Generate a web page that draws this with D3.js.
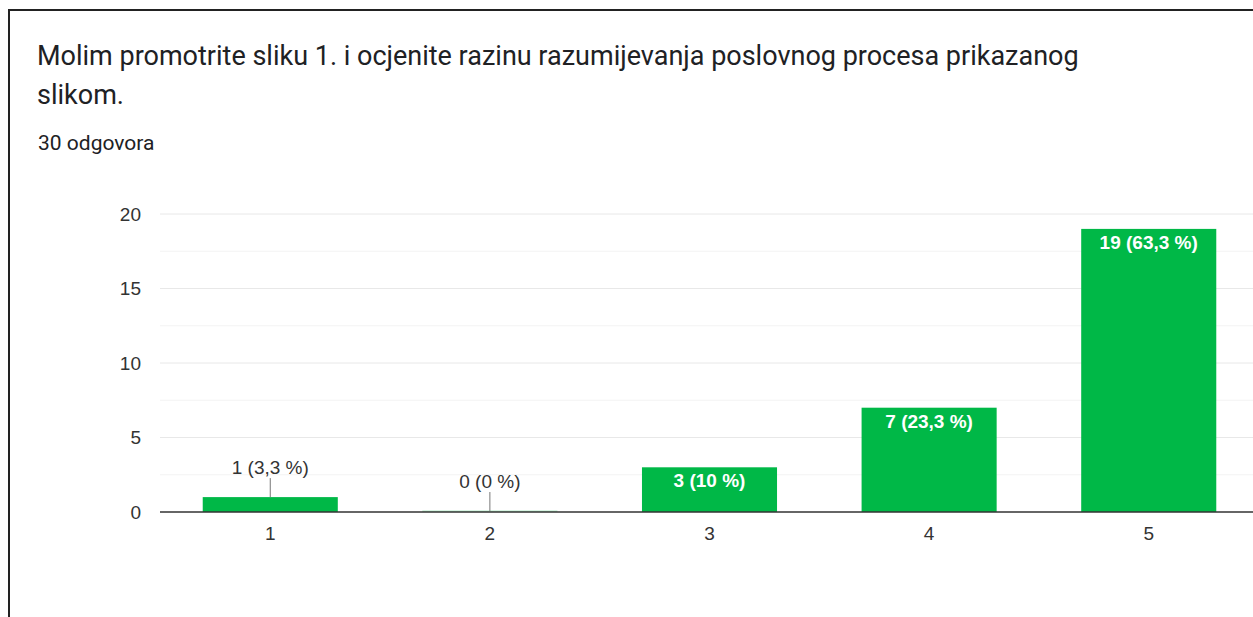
<!DOCTYPE html>
<html>
<head>
<meta charset="utf-8">
<script src="https://cdn.jsdelivr.net/npm/d3@7"></script>
<style>
  body { margin: 0; background: #fff; }
  svg { display: block; }
</style>
</head>
<body>
<div id="chart"></div>
<script>
// data
const categories = ['1', '2', '3', '4', '5']
const counts = [1, 0, 3, 7, 19]
const labels = ['1 (3,3 %)', '0 (0 %)', '3 (10 %)', '7 (23,3 %)', '19 (63,3 %)']
const yTicks = [0, 5, 10, 15, 20]
const minorTicks = [2.5, 7.5, 12.5, 17.5]

const W = 1253, H = 617
const svg = d3.select('#chart').append('svg')
    .attr('width', W)
    .attr('height', H)

// frame of the screenshot card
svg.append('path')
    .attr('d', `M9,${H} L9,10 L${W},10`)
    .attr('fill', 'none')
    .attr('stroke', '#222')
    .attr('stroke-width', 2)

// title
const title = svg.append('g').attr('font-family', 'Roboto, sans-serif').attr('fill', '#202124')
title.append('text').attr('x', 37).attr('y', 65).attr('font-size', 27)
    .text('Molim promotrite sliku 1. i ocjenite razinu razumijevanja poslovnog procesa prikazanog')
title.append('text').attr('x', 37).attr('y', 104).attr('font-size', 27)
    .text('slikom.')
title.append('text').attr('x', 38).attr('y', 150).attr('font-size', 21)
    .text('30 odgovora')

const x = d3.scaleBand()
    .domain(categories)
    .range([161, 1258])
    .paddingInner(0.385)
    .paddingOuter(0.19)

const y = d3.scaleLinear()
    .domain([0, 20])
    .range([512, 214])

const green = '#00b847'
const font = 'Arial, "Liberation Sans", sans-serif'
const plot = svg.append('g').attr('font-family', font)

// gridlines
plot.selectAll('.minor').data(minorTicks).enter().append('line')
    .attr('x1', 160).attr('x2', W)
    .attr('y1', d => y(d)).attr('y2', d => y(d))
    .attr('stroke', '#f3f3f3')
plot.selectAll('.major').data(yTicks.slice(1)).enter().append('line')
    .attr('x1', 160).attr('x2', W)
    .attr('y1', d => y(d)).attr('y2', d => y(d))
    .attr('stroke', '#e8e8e8')

// y axis labels
const yAxis = plot.append('g')
    .attr('transform', 'translate(141,0)')
    .call(d3.axisLeft(y).tickValues(yTicks).tickSize(0).tickPadding(0))
yAxis.select('.domain').remove()
yAxis.selectAll('text').attr('font-size', 19).attr('fill', '#333').attr('font-family', font)

// bars
plot.selectAll('.bar').data(counts).enter().append('rect')
    .attr('x', (d, i) => x(categories[i]))
    .attr('y', d => y(d) - (d === 0 ? 1.5 : 0))
    .attr('width', x.bandwidth())
    .attr('height', d => Math.max(1.5, y(0) - y(d)))
    .attr('fill', green)
    .attr('opacity', d => d === 0 ? 0.3 : 1)

// baseline
plot.append('line')
    .attr('x1', 160).attr('x2', W)
    .attr('y1', y(0)).attr('y2', y(0))
    .attr('stroke', '#333').attr('stroke-width', 1.3)

// x axis labels
const xAxis = plot.append('g')
    .attr('transform', `translate(0,${y(0) + 14})`)
    .call(d3.axisBottom(x).tickSize(0).tickPadding(0))
xAxis.select('.domain').remove()
xAxis.selectAll('text').attr('font-size', 19).attr('fill', '#333').attr('dy', '0.71em').attr('font-family', font)

// value labels: inside the bar when it is tall enough, else above with a leader line
counts.forEach((d, i) => {
    const cx = x(categories[i]) + x.bandwidth() / 2
    const inside = y(0) - y(d) > 25
    if (inside) {
        plot.append('text')
            .attr('x', cx).attr('y', y(d) + 20)
            .attr('text-anchor', 'middle')
            .attr('font-size', 19).attr('font-weight', 'bold')
            .attr('fill', '#fff')
            .text(labels[i])
    } else {
        const top = y(d) - (d === 0 ? 1 : 0)
        plot.append('line')
            .attr('x1', cx).attr('x2', cx)
            .attr('y1', top).attr('y2', top - 19)
            .attr('stroke', '#777')
        plot.append('text')
            .attr('x', cx).attr('y', top - 23)
            .attr('text-anchor', 'middle')
            .attr('font-size', 19)
            .attr('fill', '#333')
            .text(labels[i])
    }
})
</script>
</body>
</html>
